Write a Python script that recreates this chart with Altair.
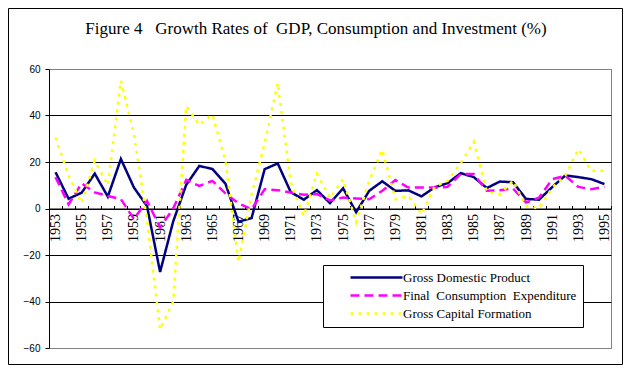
import altair as alt
import pandas as pd

years = list(range(1953, 1996))
gdp = [15.6, 4.2, 6.8, 15.0, 5.1, 21.3, 9.0, 1.0, -27.3, -5.6, 10.2, 18.3, 17.0, 10.7, -5.7, -4.1,
       16.9, 19.4, 7.0, 3.8, 7.9, 2.3, 8.7, -1.6, 7.6, 11.7, 7.6, 7.8, 5.2, 9.1, 10.9, 15.2, 13.5,
       8.8, 11.6, 11.3, 4.1, 3.8, 9.2, 14.2, 13.5, 12.6, 10.5]
cons = [13.5, 1.8, 10.8, 6.9, 5.4, 4.0, -4.5, 3.3, -8.2, 0.0, 12.3, 9.7, 11.9, 6.5, 2.2, -0.3,
        8.3, 7.9, 6.9, 5.9, 6.2, 3.5, 4.7, 4.3, 4.0, 7.6, 12.2, 9.0, 9.0, 9.0, 9.3, 14.8, 14.8,
        7.6, 7.9, 8.6, 2.6, 4.7, 12.6, 14.1, 9.3, 8.3, 9.3]
gcf = [30.5, 14.1, 2.3, 20.5, 10.0, 55.0, 32.0, -5.0, -52.0, -40.0, 44.0, 36.0, 40.5, 20.5, -23.0,
       6.0, 28.0, 54.0, 11.0, -3.2, 15.0, 4.5, 12.6, -6.0, 11.9, 25.3, 4.0, 5.4, -2.5, 9.3, 11.9,
       19.5, 28.7, 7.2, 6.2, 11.9, 1.1, 0.0, 9.0, 14.1, 25.5, 16.2, 16.2]

series_names = ["Gross Domestic Product",
                "Final\u00a0 Consumption\u00a0 Expenditure",
                "Gross Capital Formation"]
colors = ["#000080", "#FF00FF", "#FFFF00"]
dashes = [[1, 0], [9, 5], [3, 5]]
y_ticks = [-60, -40, -20, 0, 20, 40, 60]
title_text = "Figure 4\u00a0\u00a0 Growth Rates of\u00a0 GDP, Consumption and Investment (%)"

rows = []
for name, vals in zip(series_names, [gdp, cons, gcf]):
    for yr, v in zip(years, vals):
        rows.append({"Year": yr, "Series": name, "Value": v})
df = pd.DataFrame(rows)

W, H = 562, 279
SERIF = "Liberation Serif"

leg = alt.Legend(title=None, orient="none", legendX=274, legendY=196, direction="vertical",
                 fillColor="white", strokeColor="black", padding=6, symbolType="M-5,0H5",
                 symbolSize=108, symbolStrokeWidth=2.5, symbolOffset=41,
                 labelFont=SERIF, labelFontSize=13, labelColor="black",
                 labelOffset=20, rowPadding=4, labelLimit=400)

lines = alt.Chart(df).mark_line(strokeWidth=2.5).encode(
    x=alt.X("Year:O",
            scale=alt.Scale(type="band", paddingInner=0, paddingOuter=0),
            axis=alt.Axis(orient="top", offset=-H / 2, title=None, tickBand="extent",
                          tickSize=3, tickColor="black", domainColor="black",
                          labelAngle=270, labelAlign="right", labelBaseline="middle",
                          labelPadding=-8,
                          labelExpr="datum.value % 2 == 1 ? datum.label : ''",
                          labelOverlap=False, labelFont=SERIF,
                          labelFontSize=14, labelColor="black", grid=False)),
    y=alt.Y("Value:Q",
            scale=alt.Scale(domain=[-60, 60], nice=False, zero=False),
            axis=alt.Axis(values=y_ticks, title=None, grid=True,
                          gridColor={"condition": {"test": "abs(datum.value) == 60",
                                                   "value": "#808080"},
                                     "value": "black"},
                          gridWidth=1, tickSize=4, tickColor="black",
                          domainColor="black", labelPadding=5,
                          labelFont="Liberation Sans", labelFontSize=10,
                          labelColor="black")),
    color=alt.Color("Series:N", scale=alt.Scale(domain=series_names, range=colors),
                    legend=leg),
    strokeDash=alt.StrokeDash("Series:N", scale=alt.Scale(domain=series_names, range=dashes),
                              legend=leg),
)

frame = alt.Chart(pd.DataFrame({"f": [0]})).mark_rect(
    fillOpacity=0, stroke="black", strokeWidth=1
).encode(x=alt.value(-40.5), x2=alt.value(573.5), y=alt.value(-60.5), y2=alt.value(295.5))

title = alt.Chart(pd.DataFrame({"t": [title_text]})).mark_text(
    font=SERIF, fontSize=17, color="black", align="center", baseline="alphabetic"
).encode(text="t:N", x=alt.value(267), y=alt.value(-35))

chart = alt.layer(lines, frame, title).properties(
    width=W, height=H,
    background="white",
    autosize=alt.AutoSizeParams(type="none"),
    padding={"left": 41, "top": 61, "right": 12, "bottom": 17},
).configure_view(stroke="#808080", strokeWidth=1)

chart.save("out.html", embed_options={"renderer": "svg", "actions": False})
